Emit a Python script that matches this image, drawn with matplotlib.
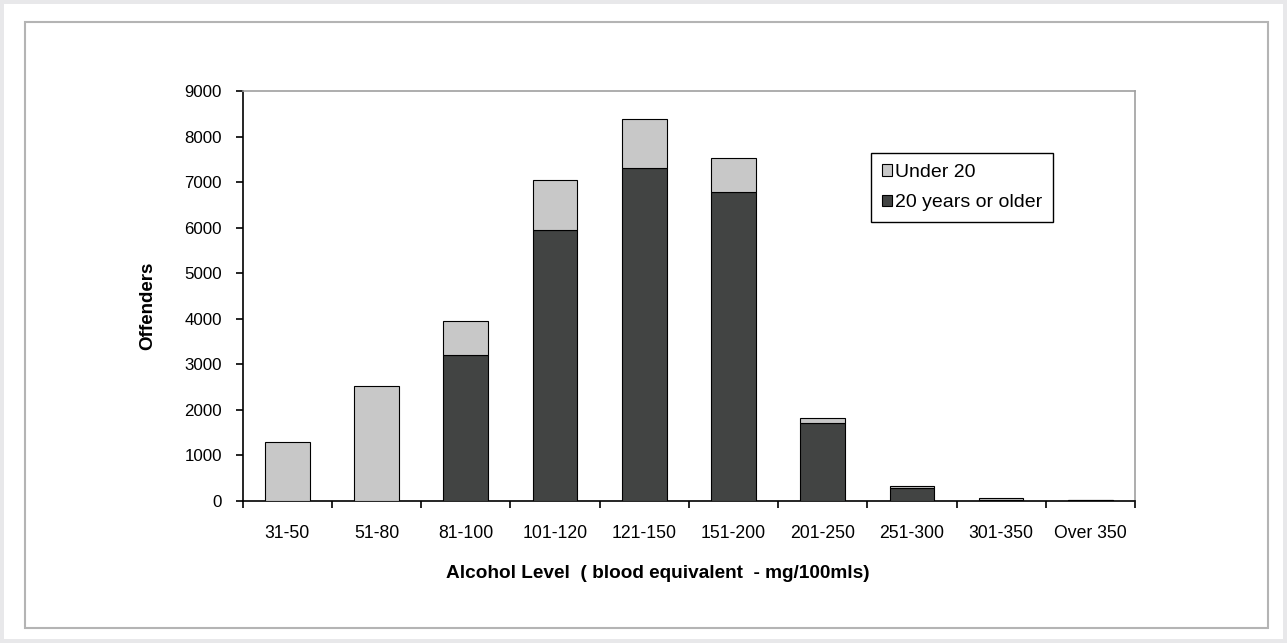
import matplotlib.pyplot as plt
from matplotlib.patches import Rectangle
import numpy as np

plt.rcParams['font.family'] = ['Liberation Sans', 'DejaVu Sans']

# Data
levels = ['31-50', '51-80', '81-100', '101-120', '121-150', '151-200',
          '201-250', '251-300', '301-350', 'Over 350']
older = np.array([0, 0, 3200, 5950, 7300, 6780, 1720, 285, 30, 12])   # 20 years or older
under20 = np.array([1300, 2530, 750, 1100, 1080, 760, 100, 50, 30, 18])  # Under 20

W, H = 1287, 643
fig = plt.figure(figsize=(W / 100, H / 100), dpi=100)
fig.patch.set_facecolor('#e8e8ea')

# white panel and inner grey frame
fig.patches.append(Rectangle((4 / W, 4 / H), 1279 / W, 635 / H, transform=fig.transFigure,
                             facecolor='white', edgecolor='none', zorder=-2))
fig.patches.append(Rectangle((25 / W, 1 - 628 / H), 1243 / W, 606 / H, transform=fig.transFigure,
                             facecolor='none', edgecolor='#b4b4b4', linewidth=1.5, zorder=-1))

ax = fig.add_axes([242.7 / W, 1 - 501 / H, (1135 - 242.7) / W, 410 / H])
ax.set_zorder(2)
ax.set_facecolor('white')

x = np.arange(len(levels))
b1 = ax.bar(x, older, width=0.5, color='#424443', edgecolor='black', linewidth=0.8, zorder=3)
b2 = ax.bar(x, under20, bottom=older, width=0.5, color='#c8c8c8', edgecolor='black', linewidth=0.8, zorder=3)

ax.set_xlim(-0.5, len(levels) - 0.5)
ax.set_ylim(0, 9000)
ax.set_yticks(np.arange(0, 9001, 1000))
ax.set_xticks(x)
ax.set_xticklabels(levels)
ax.set_xticks(np.arange(-0.5, len(levels), 1), minor=True)
ax.tick_params(axis='x', which='major', length=0, pad=17, labelsize=12.7)
ax.tick_params(axis='x', which='minor', length=5, width=1.2, direction='out')
ax.tick_params(axis='y', length=5, width=1.2, direction='out', labelsize=12.2, pad=10)

for s in ['top', 'right']:
    ax.spines[s].set_color('#a0a0a0')
    ax.spines[s].set_linewidth(1.2)
for s in ['left', 'bottom']:
    ax.spines[s].set_color('black')
    ax.spines[s].set_linewidth(1.2)

fig.text(658 / W, 1 - 573 / H, 'Alcohol Level  ( blood equivalent  - mg/100mls)',
         ha='center', va='center', fontsize=13.7, fontweight='bold')
fig.text(148 / W, 1 - 306 / H, 'Offenders', ha='center', va='center',
         rotation=90, fontsize=13.5, fontweight='bold')

leg = fig.legend([b2, b1], ['Under 20', '20 years or older'], loc='upper left',
                 bbox_to_anchor=(871 / W, 1 - 153 / H), fontsize=14,
                 handlelength=0.55, handleheight=0.55, handletextpad=0.15,
                 labelspacing=0.7, borderpad=0.55, fancybox=False, framealpha=1,
                 edgecolor='black', borderaxespad=0)
leg.get_frame().set_linewidth(1.0)
leg.set_zorder(5)

plt.savefig('out.png', dpi=100)
